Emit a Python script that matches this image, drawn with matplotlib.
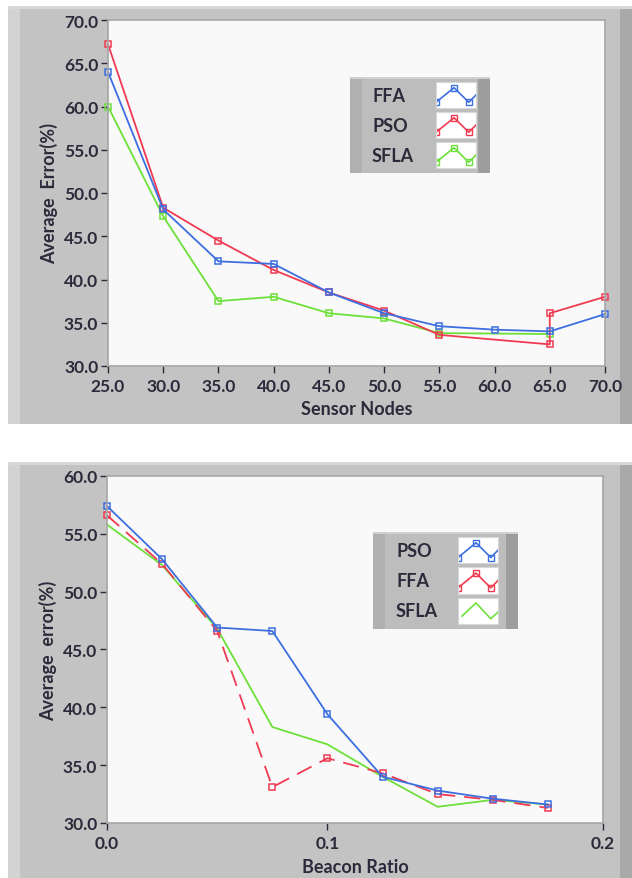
import matplotlib
matplotlib.use("Agg")
import matplotlib.pyplot as plt
from matplotlib.patches import Rectangle

# ---------------- data ----------------
# Chart 1: Sensor Nodes
ffa1_x = [25, 30, 35, 40, 45, 50, 55, 60, 65, 70]
ffa1_y = [64.0, 48.1, 42.1, 41.8, 38.5, 36.1, 34.6, 34.2, 34.0, 36.0]
pso1_x = [25, 30, 35, 40, 45, 50, 55, 65, 65, 70]
pso1_y = [67.2, 48.3, 44.5, 41.1, 38.5, 36.4, 33.6, 32.5, 36.1, 38.0]
sfla1_x = [25, 30, 35, 40, 45, 50, 55, 65]
sfla1_y = [60.0, 47.3, 37.5, 38.0, 36.1, 35.5, 33.8, 33.7]
y1_ticks = [30, 35, 40, 45, 50, 55, 60, 65, 70]
x1_ticks = [25, 30, 35, 40, 45, 50, 55, 60, 65, 70]

# Chart 2: Beacon Ratio
beacon = [0.0, 0.025, 0.05, 0.075, 0.1, 0.125, 0.15, 0.175, 0.2]
pso2_y = [57.4, 52.8, 46.9, 46.6, 39.4, 34.0, 32.8, 32.1, 31.6]
ffa2_y = [56.6, 52.4, 46.6, 33.1, 35.6, 34.3, 32.5, 32.0, 31.3]
sfla2_y = [55.8, 52.3, 46.8, 38.3, 36.8, 34.0, 31.4, 32.0, 31.6]
y2_ticks = [30, 35, 40, 45, 50, 55, 60]
x2_ticks = [0.0, 0.1, 0.225]
x2_labels = ["0.0", "0.1", "0.2"]

BLUE = "#3d6fe0"
RED = "#f03a52"
GREEN = "#6ee03a"
PANEL = "#c3c3c3"
PLOTBG = "#f9f9f9"
TXT = "#2a2a3a"

W, H = 632, 879
fig = plt.figure(figsize=(W / 100, H / 100), dpi=100)
fig.patch.set_facecolor("white")


def fx(px):
    return px / W


def fy(py):
    return 1 - py / H


def rect(x0, y0, x1, y1, color, z=0):
    fig.patches.append(Rectangle((fx(x0), fy(y1)), fx(x1) - fx(x0), fy(y0) - fy(y1),
                                 transform=fig.transFigure, facecolor=color,
                                 edgecolor="none", zorder=z))


# panels
def panel(y0, y1):
    rect(8, y0, 632, y1, PANEL, -3)
    rect(8, y0, 20, y1, "#d3d3d3", -2.9)
    rect(620, y0, 632, y1, "#a9a9a9", -2.9)
    rect(8, y0, 632, y0 + 3, "#d8d8d8", -2.8)


panel(7, 425)
panel(463, 879)

FONT = ["Lato", "DejaVu Sans"]


def style_axes(ax):
    ax.set_facecolor(PLOTBG)
    for s in ax.spines.values():
        s.set_color("#a5a5a5")
        s.set_linewidth(1.2)
    ax.tick_params(direction="out", length=5, width=1, color=TXT,
                   labelcolor=TXT, labelsize=12.5, pad=2)
    ax.tick_params(axis="x", pad=4)
    for lab in ax.get_xticklabels() + ax.get_yticklabels():
        lab.set_fontfamily(FONT)
        lab.set_fontweight("bold")


mk = dict(marker="s", markersize=5, markerfacecolor="none", markeredgewidth=1.1)

# ---------- chart 1 ----------
ax1 = fig.add_axes([fx(108), fy(367), fx(605) - fx(108), fy(21) - fy(367)])
ax1.plot(sfla1_x, sfla1_y, color=GREEN, lw=1.3, markeredgecolor=GREEN, **mk)
ax1.plot(pso1_x, pso1_y, color=RED, lw=1.3, markeredgecolor=RED, **mk)
ax1.plot(ffa1_x, ffa1_y, color=BLUE, lw=1.3, markeredgecolor=BLUE, **mk)
ax1.set_xlim(25, 70)
ax1.set_ylim(30, 70)
ax1.set_xticks(x1_ticks)
ax1.set_yticks(y1_ticks)
ax1.set_xticklabels([f"{v:.1f}" for v in x1_ticks])
ax1.set_yticklabels([f"{v:.1f}" for v in y1_ticks])
for p in ax1.lines:
    p.set_clip_on(False)
style_axes(ax1)
ax1.set_xlabel("Sensor Nodes", fontsize=13, fontweight="bold", color=TXT,
               family=FONT, labelpad=4)
ax1.set_ylabel("Average  Error(%)", fontsize=13, fontweight="bold", color=TXT,
               family=FONT, labelpad=4)

# ---------- chart 2 ----------
ax2 = fig.add_axes([fx(107), fy(824), fx(603) - fx(107), fy(477) - fy(824)])
ax2.plot(beacon, sfla2_y, color=GREEN, lw=1.3)
ax2.plot(beacon, ffa2_y, color=RED, lw=1.3, dashes=(9, 5), markeredgecolor=RED, **mk)
ax2.plot(beacon, pso2_y, color=BLUE, lw=1.3, markeredgecolor=BLUE, **mk)
ax2.set_xlim(0, 0.225)
ax2.set_ylim(30, 60)
ax2.set_xticks(x2_ticks)
ax2.set_xticklabels(x2_labels)
ax2.set_yticks(y2_ticks)
ax2.set_yticklabels([f"{v:.1f}" for v in y2_ticks])
for p in ax2.lines:
    p.set_clip_on(False)
style_axes(ax2)
ax2.set_xlabel("Beacon Ratio", fontsize=13, fontweight="bold", color=TXT,
               family=FONT, labelpad=5)
ax2.set_ylabel("Average  error(%)", fontsize=13, fontweight="bold", color=TXT,
               family=FONT, labelpad=4)


# ---------- legends ----------
def legend(x0, y0, x1, y1, rows, sw_x0, sw_x1, text_x):
    rect(x0, y0, x1, y1, "#bdbdbd", 3)
    rect(x0, y0, x0 + 12, y1, "#b0b0b0", 3.1)
    rect(x1 - 12, y0, x1, y1, "#9e9e9e", 3.1)
    rect(x0, y0, x1, y0 + 2, "#d0d0d0", 3.2)
    n = len(rows)
    rh = (y1 - y0 - 6) / n
    for i, (name, color, markers) in enumerate(rows):
        cy = y0 + 3 + rh * (i + 0.5)
        fig.text(fx(text_x), fy(cy), name, fontsize=13, fontweight="bold",
                 color=TXT, family=FONT, va="center", ha="left", zorder=5)
        sx = fig.add_axes([fx(sw_x0), fy(cy + rh / 2 - 2), fx(sw_x1) - fx(sw_x0),
                           fy(cy - rh / 2 + 2) - fy(cy + rh / 2 - 2)])
        sx.set_zorder(6)
        sx.set_facecolor("white")
        for s in sx.spines.values():
            s.set_color("#d8d8d8")
        sx.set_xticks([])
        sx.set_yticks([])
        sx.set_xlim(0, 1)
        sx.set_ylim(0, 1)
        xs = [0.0, 0.45, 0.82, 1.0]
        ys = [0.22, 0.78, 0.22, 0.5]
        if markers:
            sx.plot(xs, ys, color=color, lw=1.2)
            sx.plot(xs[:3], ys[:3], ls="none", marker="s", markersize=4.5,
                    markerfacecolor="none", markeredgecolor=color,
                    markeredgewidth=1.0)
        else:
            sx.plot([0.1, 0.45, 0.82, 1.0], [0.3, 0.8, 0.2, 0.45], color=color, lw=1.2)


legend(350, 78, 490, 174,
       [("FFA", BLUE, True), ("PSO", RED, True), ("SFLA", GREEN, True)],
       436, 476, 372)
legend(373, 533, 518, 630,
       [("PSO", BLUE, True), ("FFA", RED, True), ("SFLA", GREEN, False)],
       458, 498, 396)

fig.savefig("out.png", dpi=100)
